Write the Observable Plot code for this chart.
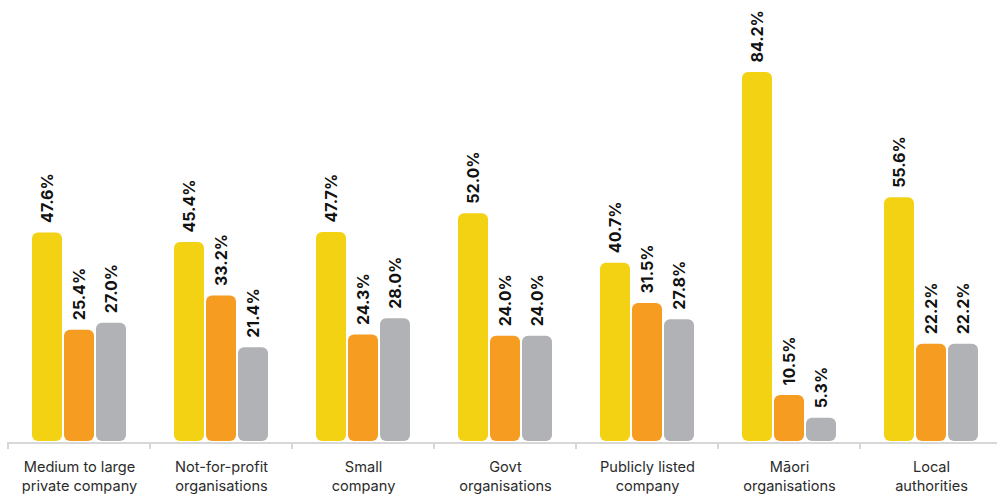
<!DOCTYPE html>
<html><head><meta charset="utf-8">
<script src="https://cdn.jsdelivr.net/npm/d3@7"></script>
<script src="https://cdn.jsdelivr.net/npm/@observablehq/plot@0.6"></script>
<style>
html,body{margin:0;padding:0;background:#fff;}
#chart{width:997px;height:494px;}
</style></head>
<body><div id="chart"></div>
<script>
const categories = ["Medium to large\nprivate company","Not-for-profit\norganisations","Small\ncompany","Govt\norganisations","Publicly listed\ncompany","Māori\norganisations","Local\nauthorities"];
const series = ["A","B","C"];
const valuesA = [47.6,45.4,47.7,52.0,40.7,84.2,55.6];
const valuesB = [25.4,33.2,24.3,24.0,31.5,10.5,22.2];
const valuesC = [27.0,21.4,28.0,24.0,27.8,5.3,22.2];
const colors = ["#F3D213","#F69C21","#B1B2B5"];

const data = [];
categories.forEach((c,i)=>{
  [valuesA,valuesB,valuesC].forEach((arr,j)=>data.push({cat:c, s:series[j], v:arr[i]}));
});

const chart = Plot.plot({
  width: 997, height: 494,
  marginLeft: 8, marginRight: 0, marginTop: 0, marginBottom: 53,
  style: {fontFamily: "Inter, sans-serif", background: "#fff"},
  fx: {domain: categories, range: [8, 1002], padding: 0, label: null},
  x: {domain: series, paddingInner: 0.0625, paddingOuter: 0.75, axis: null},
  y: {domain: [0, 100], range: [441, 2.8], axis: null},
  color: {domain: series, range: colors},
  marks: [
    Plot.axisFx({anchor: "bottom", tickSize: 0, tickPadding: 18, fontSize: 14.6, lineHeight: 1.25, fill: "#2b2b2b", label: null}),
    Plot.barY(data, {fx: "cat", x: "s", y: "v", fill: "s", rx: 6}),
    Plot.text(data, {fx: "cat", x: "s", y: "v", text: d => d.v.toFixed(1) + "%", rotate: -90, textAnchor: "start", dy: -10, fontSize: 16, fontWeight: 700, fill: "#111"}),
    Plot.ruleY([0], {stroke: "#d7d7d7", strokeWidth: 2, dy: 1.5})
  ]
});
document.getElementById("chart").appendChild(chart);

// boundary ticks at group edges, placed through the fx scale
const fx = chart.scale("fx");
const svg = d3.select(chart.tagName.toLowerCase() === "svg" ? chart : chart.querySelector("svg"));
const yBase = chart.scale("y").apply(0);
svg.append("g").attr("stroke", "#d7d7d7").attr("stroke-width", 2)
  .selectAll("line").data(categories).join("line")
  .attr("x1", d => fx.apply(d)).attr("x2", d => fx.apply(d))
  .attr("y1", yBase + 1).attr("y2", yBase + 8);
</script>
</body></html>
